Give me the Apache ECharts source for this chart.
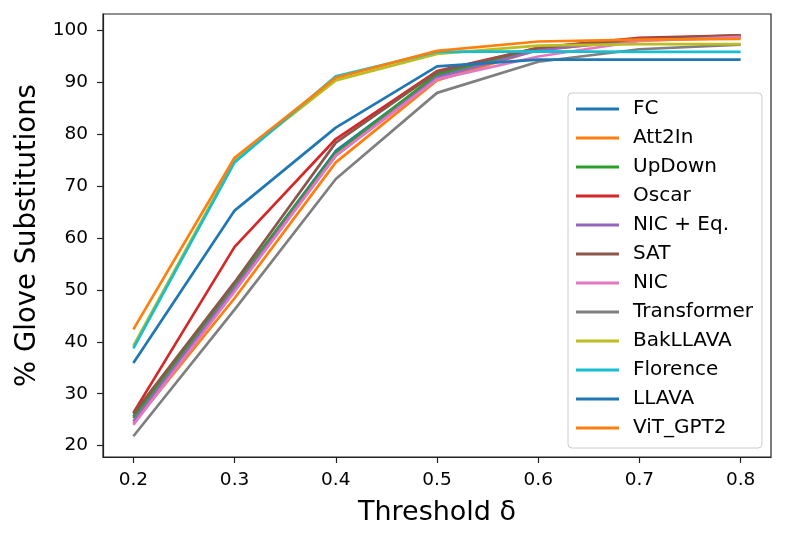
<!DOCTYPE html>
<html>
<head>
<meta charset="utf-8">
<script src="https://cdn.jsdelivr.net/npm/echarts@6/dist/echarts.min.js"></script>
<style>
html,body{margin:0;padding:0;background:#fff;}
#chart{width:786px;height:541px;}
</style>
</head>
<body>
<div id="chart"></div>
<script>
const thresholds = [0.2, 0.3, 0.4, 0.5, 0.6, 0.7, 0.8];
const xTicks = [0.2, 0.3, 0.4, 0.5, 0.6, 0.7, 0.8];
const yTicks = [20, 30, 40, 50, 60, 70, 80, 90, 100];

const seriesNames = ["FC", "Att2In", "UpDown", "Oscar", "NIC + Eq.", "SAT", "NIC", "Transformer", "BakLLAVA", "Florence", "LLAVA", "ViT_GPT2"];
const colors = ["#1f77b4", "#ff7f0e", "#2ca02c", "#d62728", "#9467bd", "#8c564b", "#e377c2", "#7f7f7f", "#bcbd22", "#17becf", "#1f77b4", "#ff7f0e"];

const FC          = [25.6, 50.8, 76.8, 91.4, 96.5, 98.2, 98.9];
const Att2In      = [24.3, 48.4, 74.6, 90.4, 96.3, 98.1, 98.6];
const UpDown      = [25.3, 51.0, 76.4, 91.6, 96.4, 98.3, 99.0];
const Oscar       = [26.3, 58.3, 79.1, 92.2, 96.7, 98.6, 99.1];
const NICEq       = [24.7, 50.3, 75.9, 91.0, 96.2, 98.3, 98.9];
const SAT         = [26.1, 51.5, 78.4, 92.0, 96.7, 98.4, 99.1];
const NIC         = [24.0, 49.7, 75.9, 90.6, 95.0, 98.0, 98.8];
const Transformer = [21.8, 46.2, 71.4, 88.0, 94.0, 96.4, 97.3];
const BakLLAVA    = [39.2, 75.0, 90.4, 95.5, 97.1, 97.4, 97.4];
const Florence    = [38.75, 74.6, 91.2, 95.9, 96.0, 95.9, 95.9];
const LLAVA       = [35.9, 65.3, 81.3, 93.1, 94.4, 94.4, 94.4];
const ViT_GPT2    = [42.4, 75.5, 90.9, 96.1, 97.9, 98.25, 98.4];

const allValues = [FC, Att2In, UpDown, Oscar, NICEq, SAT, NIC, Transformer, BakLLAVA, Florence, LLAVA, ViT_GPT2];

const FONT = "DejaVu Sans";
const chart = echarts.init(document.getElementById('chart'), null, {renderer: 'canvas'});

const series = seriesNames.map((name, i) => ({
  name: name,
  type: 'line',
  data: thresholds.map((t, j) => [t, allValues[i][j]]),
  showSymbol: false,
  symbol: 'none',
  lineStyle: {width: 2.7, color: colors[i]},
  itemStyle: {color: colors[i]},
  emphasis: {disabled: true},
  animation: false
}));

chart.setOption({
  animation: false,
  backgroundColor: '#fff',
  grid: {left: 103, right: 15, top: 14, bottom: 84, show: true, borderColor: '#222', borderWidth: 1.2, backgroundColor: 'transparent'},
  xAxis: {
    type: 'value', min: 0.17, max: 0.83,
    name: 'Threshold δ', nameLocation: 'middle', nameGap: 42,
    nameTextStyle: {fontFamily: FONT, fontSize: 27, color: '#000'},
    axisLine: {show: true, onZero: false, lineStyle: {color: '#222', width: 1.2}},
    axisTick: {show: true, length: 6, customValues: xTicks, lineStyle: {color: '#222', width: 1.2}},
    axisLabel: {customValues: xTicks, formatter: v => v.toFixed(1), fontFamily: FONT, fontSize: 18.5, color: '#000', margin: 14},
    splitLine: {show: false}
  },
  yAxis: {
    type: 'value', min: 17.8, max: 103.2,
    name: '% Glove Substitutions', nameLocation: 'middle', nameGap: 61,
    nameTextStyle: {fontFamily: FONT, fontSize: 27.5, color: '#000'},
    axisLine: {show: true, onZero: false, lineStyle: {color: '#222', width: 1.2}},
    axisTick: {show: true, length: 6, customValues: yTicks, lineStyle: {color: '#222', width: 1.2}},
    axisLabel: {customValues: yTicks, fontFamily: FONT, fontSize: 18.5, color: '#000', margin: 15},
    splitLine: {show: false}
  },
  legend: {
    orient: 'vertical', left: 568, top: 93,
    data: seriesNames.map((n, i) => ({name: n, itemStyle: {color: colors[i]}})),
    icon: 'rect', itemWidth: 43, itemHeight: 3, itemGap: 7,
    padding: [5, 9, 9, 8],
    backgroundColor: 'rgba(255,255,255,0.8)', borderColor: '#cccccc', borderWidth: 1, borderRadius: 4,
    textStyle: {fontFamily: FONT, fontSize: 20, color: '#000', lineHeight: 22, padding: [0, 0, 0, 9]},
    selectedMode: false
  },
  series: series
});
</script>
</body>
</html>
